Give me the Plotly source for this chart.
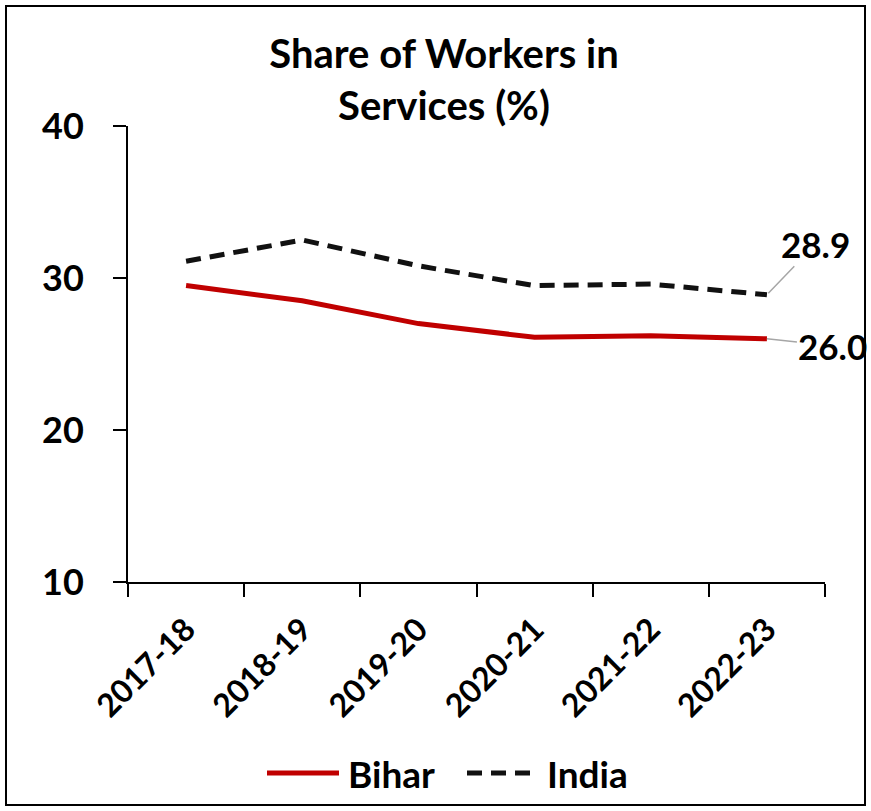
import plotly.graph_objects as go

years = ["2017-18", "2018-19", "2019-20", "2020-21", "2021-22", "2022-23"]
bihar = [29.5, 28.5, 27.0, 26.1, 26.2, 26.0]
india = [31.1, 32.5, 30.8, 29.5, 29.6, 28.9]
series_names = ["Bihar", "India"]
y_ticks = [10, 20, 30, 40]

FONT = "Lato"
W, H = 871, 811
L, R, T, B = 128, 46, 126, 229
pw = W - L - R
ph = H - T - B
RED = "#C00000"
BLK = "#111111"
DASH = "15px,9px"


def px_x(p):
    return (p - L) / pw


def px_y(p):
    return (H - B - p) / ph


fig = go.Figure()
fig.add_trace(go.Scatter(x=years, y=bihar, mode="lines", name=series_names[0],
                         showlegend=False, hoverinfo="skip",
                         line=dict(color=RED, width=5)))
fig.add_trace(go.Scatter(x=years, y=india, mode="lines", name=series_names[1],
                         showlegend=False, hoverinfo="skip",
                         line=dict(color=BLK, width=5, dash=DASH)))

# end-value labels
fig.add_annotation(x=years[-1], y=india[-1], text=f"<b>{india[-1]:.1f}</b>",
                   showarrow=True, arrowhead=0, arrowcolor="#A6A6A6",
                   arrowwidth=1.5, ax=49, ay=-51, standoff=2,
                   font=dict(family=FONT, size=35, color="black"))
fig.add_annotation(x=years[-1], y=bihar[-1], text=f"<b>{bihar[-1]:.1f}</b>",
                   showarrow=True, arrowhead=0, arrowcolor="#A6A6A6",
                   arrowwidth=1.5, ax=66, ay=7,
                   font=dict(family=FONT, size=35, color="black"))

# outer frame
fig.add_shape(type="rect", xref="paper", yref="paper",
              x0=px_x(6), x1=px_x(W - 6), y0=px_y(H - 6), y1=px_y(6),
              line=dict(color="black", width=2), layer="below")

# legend (drawn manually to match long legend keys)
LEG_Y = 773
fig.add_shape(type="line", xref="paper", yref="paper",
              x0=px_x(267), x1=px_x(339), y0=px_y(LEG_Y), y1=px_y(LEG_Y),
              line=dict(color=RED, width=5))
fig.add_annotation(xref="paper", yref="paper", x=px_x(346), y=px_y(LEG_Y),
                   xanchor="left", yanchor="middle", showarrow=False,
                   text=f"<b>{series_names[0]}</b>",
                   font=dict(family=FONT, size=37, color="black"))
fig.add_shape(type="line", xref="paper", yref="paper",
              x0=px_x(467), x1=px_x(531), y0=px_y(LEG_Y), y1=px_y(LEG_Y),
              line=dict(color=BLK, width=5, dash=DASH))
fig.add_annotation(xref="paper", yref="paper", x=px_x(545), y=px_y(LEG_Y),
                   xanchor="left", yanchor="middle", showarrow=False,
                   text=f"<b>{series_names[1]}</b>",
                   font=dict(family=FONT, size=37, color="black"))

fig.update_layout(
    width=W, height=H,
    margin=dict(l=L, r=R, t=T, b=B),
    paper_bgcolor="white", plot_bgcolor="white",
    title=dict(text="<b>Share of Workers in<br>Services (%)</b>",
               x=444 / W, xanchor="center", y=1 - 68 / H, yanchor="middle",
               font=dict(family=FONT, size=40, color="black")),
    showlegend=False,
    xaxis=dict(type="category", range=[-0.5, 5.5], showline=True,
               linecolor="black", linewidth=2, ticks="outside",
               tickson="boundaries", ticklen=13, tickwidth=2, tickcolor="black",
               tickangle=-45, showgrid=False, zeroline=False,
               ticklabelstandoff=14,
               tickfont=dict(family=FONT, size=32, color="black", weight="bold")),
    yaxis=dict(range=[10, 40], tickvals=y_ticks, showline=True,
               linecolor="black", linewidth=2, ticks="outside", ticklen=13,
               tickwidth=2, tickcolor="black", showgrid=False, zeroline=False,
               ticklabelstandoff=22,
               tickfont=dict(family=FONT, size=36, color="black", weight="bold")),
)

fig.write_html("out.html", config={"displayModeBar": False},
               post_script="document.body.style.margin='0px';")
